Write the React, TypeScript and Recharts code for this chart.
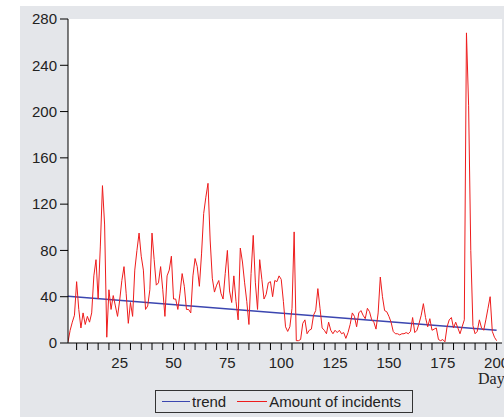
import { LineChart, Line, XAxis, YAxis, CartesianGrid } from "recharts";

// daily incident counts, day 1..200
const incidents = [
  1, 11, 18, 24, 53, 29, 13, 26, 16, 23, 18, 26, 58, 72, 38, 83, 136, 102, 5, 46,
  29, 41, 32, 23, 37, 54, 66, 43, 17, 35, 23, 63, 80, 95, 75, 63, 29, 32, 46, 95,
  72, 50, 52, 66, 46, 23, 58, 63, 75, 38, 38, 29, 43, 60, 49, 29, 29, 26, 58, 73,
  66, 49, 77, 112, 126, 138, 89, 56, 44, 50, 54, 43, 38, 60, 80, 45, 35, 58, 36, 20,
  82, 70, 52, 36, 16, 60, 93, 52, 29, 72, 55, 38, 42, 52, 53, 40, 54, 53, 58, 55,
  36, 14, 10, 14, 30, 96, 2, 2, 3, 17, 20, 8, 11, 12, 24, 28, 47, 30, 13, 11,
  8, 18, 11, 8, 11, 9, 11, 8, 9, 4, 9, 16, 26, 23, 14, 26, 28, 24, 21, 30,
  27, 20, 18, 12, 26, 57, 40, 28, 27, 23, 18, 10, 8, 8, 7, 8, 8, 9, 8, 10,
  22, 9, 11, 17, 24, 34, 22, 14, 21, 11, 12, 13, 3, 2, 3, 1, 14, 20, 22, 13,
  18, 13, 8, 14, 20, 268, 205, 80, 15, 8, 10, 20, 13, 11, 20, 30, 40, 10, 5, 2,
];

// linear trend, endpoints only
const trendDays = [1, 200];
const trendValues = [40.5, 11];

const yTicks = [0, 40, 80, 120, 160, 200, 240, 280];
const xTicks = [
  5, 10, 15, 20, 25, 30, 35, 40, 45, 50, 55, 60, 65, 70, 75, 80, 85, 90, 95, 100,
  105, 110, 115, 120, 125, 130, 135, 140, 145, 150, 155, 160, 165, 170, 175, 180,
  185, 190, 195, 200,
];
const xLabelTicks = [25, 50, 75, 100, 125, 150, 175, 200];

const RED = "#ee1c1c";
const BLUE = "#3b46b0";
const FONT = "'Liberation Sans', Arial, sans-serif";

const data = incidents.map((v, i) => {
  const day = i + 1;
  const t = trendDays.indexOf(day);
  return { day, incidents: v, trend: t >= 0 ? trendValues[t] : null };
});

const tickStyle = { fontFamily: FONT, fontSize: 15, fill: "#222" };

export default function App() {
  return (
    <div
      style={{
        position: "relative",
        width: 504,
        height: 417,
        overflow: "hidden",
        background: "#fff",
      }}
    >
      <style>{"body{margin:0}"}</style>
      <div
        style={{
          position: "absolute",
          left: 20,
          top: 6,
          right: 0,
          bottom: 0,
          background: "#e4e6ea",
        }}
      />
      <div style={{ position: "absolute", left: 0, top: 0 }}>
        <LineChart
          width={504}
          height={417}
          data={data}
          margin={{ top: 19, right: 2, left: 20, bottom: 44 }}
        >
          <CartesianGrid fill="#ffffff" horizontal={false} vertical={false} />
          <XAxis
            dataKey="day"
            type="number"
            domain={[1, 202.5]}
            allowDataOverflow
            ticks={xTicks}
            interval={0}
            tickFormatter={(v: number) => (xLabelTicks.includes(v) ? String(v) : "")}
            tick={tickStyle}
            tickSize={7}
            tickMargin={7}
            height={30}
            stroke="#000"
          />
          <XAxis
            xAxisId="top"
            orientation="top"
            type="number"
            domain={[1, 202.5]}
            tick={false}
            tickLine={false}
            height={0}
            stroke="#000"
          />
          <YAxis
            domain={[0, 280]}
            ticks={yTicks}
            interval={0}
            tick={tickStyle}
            tickSize={8}
            tickMargin={3}
            width={48}
            stroke="#000"
          />
          <YAxis
            yAxisId="right"
            orientation="right"
            domain={[0, 280]}
            tick={false}
            tickLine={false}
            width={0}
            stroke="#666"
          />
          <Line
            dataKey="trend"
            name="trend"
            stroke={BLUE}
            strokeWidth={1.5}
            dot={false}
            connectNulls
            isAnimationActive={false}
          />
          <Line
            dataKey="incidents"
            name="Amount of incidents"
            stroke={RED}
            strokeWidth={1}
            dot={false}
            isAnimationActive={false}
          />
        </LineChart>
      </div>
      <span
        style={{
          position: "absolute",
          left: 478,
          top: 370,
          fontFamily: "'Liberation Serif', 'Times New Roman', serif",
          fontSize: 16,
          color: "#222",
          whiteSpace: "nowrap",
        }}
      >
        Day
      </span>
      <div
        style={{
          position: "absolute",
          left: 155,
          top: 390,
          width: 256,
          height: 21,
          border: "1px solid #333",
          display: "flex",
          alignItems: "center",
          fontFamily: FONT,
          fontSize: 15,
          color: "#222",
          whiteSpace: "nowrap",
        }}
      >
        <span style={{ width: 28, height: 1, background: BLUE, marginLeft: 6 }} />
        <span style={{ marginLeft: 2 }}>trend</span>
        <span style={{ width: 30, height: 1, background: RED, marginLeft: 11 }} />
        <span style={{ marginLeft: 2 }}>Amount of incidents</span>
      </div>
    </div>
  );
}
